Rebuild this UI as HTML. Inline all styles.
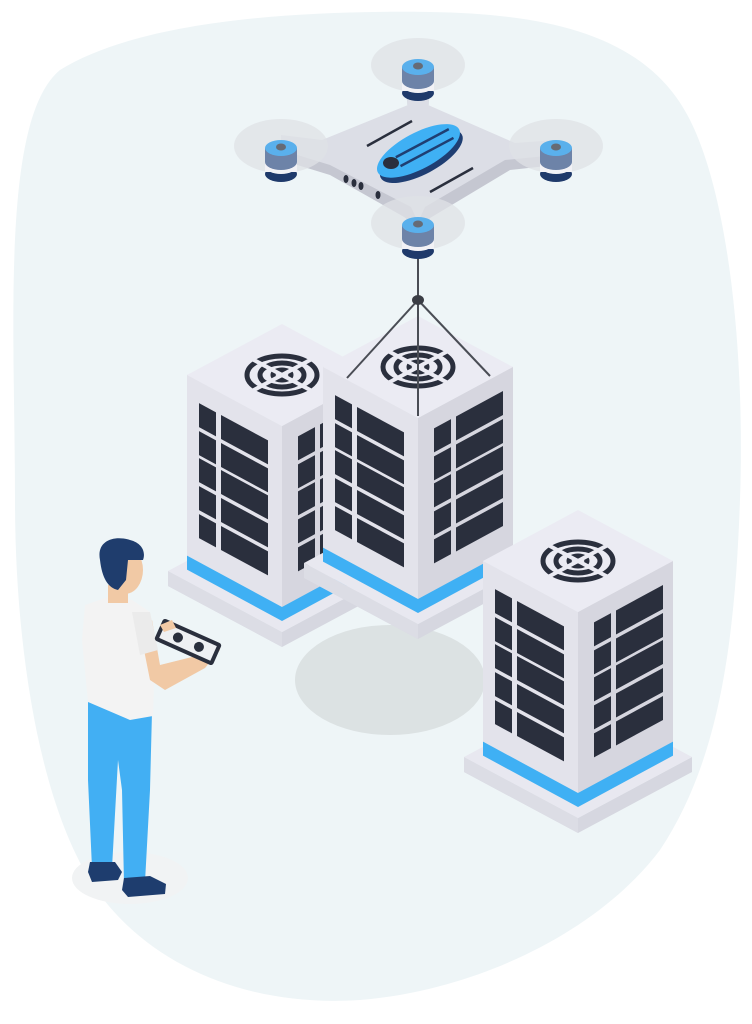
<!DOCTYPE html>
<html><head><meta charset="utf-8"><style>html,body{margin:0;padding:0;background:#fff}svg{display:block}</style></head>
<body>
<svg width="752" height="1024" viewBox="0 0 752 1024" xmlns="http://www.w3.org/2000/svg">
<defs>
<g id="srv">
  <polygon points="0,206 -114,145 -114,160 0,221 114,160 114,145" fill="#d6d7e0"/>
  <polygon points="0,206 -114,145 -114,160 0,221" fill="#dcdde5"/>
  <polygon points="0,84 -114,145 0,206 114,145" fill="#e8e8f0"/>
  <g transform="skewY(28.4)">
    <rect x="-95" y="0" width="95" height="195" fill="#e3e3eb"/>
    <rect x="-95" y="181" width="95" height="14" fill="#3fb0f4"/>
    <g fill="#2a2f3d">
      <rect x="-83" y="22" width="17" height="24"/><rect x="-61" y="22" width="47" height="24"/>
      <rect x="-83" y="50" width="17" height="24"/><rect x="-61" y="50" width="47" height="24"/>
      <rect x="-83" y="77" width="17" height="24"/><rect x="-61" y="77" width="47" height="24"/>
      <rect x="-83" y="105" width="17" height="24"/><rect x="-61" y="105" width="47" height="24"/>
      <rect x="-83" y="133" width="17" height="24"/><rect x="-61" y="133" width="47" height="24"/>
    </g>
  </g>
  <g transform="skewY(-28.4)">
    <rect x="0" y="0" width="95" height="195" fill="#d6d6df"/>
    <rect x="0" y="181" width="95" height="14" fill="#3fb0f4"/>
    <g fill="#2a2f3d">
      <rect x="16" y="19" width="17" height="24"/><rect x="38" y="19" width="47" height="24"/>
      <rect x="16" y="47" width="17" height="24"/><rect x="38" y="47" width="47" height="24"/>
      <rect x="16" y="74" width="17" height="24"/><rect x="38" y="74" width="47" height="24"/>
      <rect x="16" y="102" width="17" height="24"/><rect x="38" y="102" width="47" height="24"/>
      <rect x="16" y="130" width="17" height="24"/><rect x="38" y="130" width="47" height="24"/>
    </g>
  </g>
  <polygon points="0,0 -95,-51 0,-102 95,-51" fill="#ebebf3"/>
  <g fill="none" stroke="#2a2f3d">
    <ellipse cx="0" cy="-51" rx="35" ry="19" stroke-width="5"/>
    <ellipse cx="0" cy="-51" rx="22" ry="12" stroke-width="5"/>
    <ellipse cx="0" cy="-51" rx="9" ry="5" stroke-width="5"/>
  </g>
  <g stroke="#ebebf3" stroke-width="4">
    <line x1="-45" y1="-27" x2="45" y2="-75"/>
    <line x1="-45" y1="-75" x2="45" y2="-27"/>
  </g>
</g>
<g id="rotor">
  <ellipse cx="0" cy="-2" rx="47" ry="27" fill="#dfe2e6" opacity="0.75"/>
  <rect x="-16" y="0" width="32" height="26" fill="#f2f2f6"/>
  <ellipse cx="0" cy="26" rx="16" ry="8" fill="#1f3a6b"/>
  <rect x="-16" y="18" width="32" height="6" fill="#f2f2f6"/>
  <ellipse cx="0" cy="18" rx="16" ry="8" fill="#f2f2f6"/>
  <rect x="-16" y="0" width="32" height="14" fill="#6d83a8"/>
  <ellipse cx="0" cy="14" rx="16" ry="8" fill="#6d83a8"/>
  <ellipse cx="0" cy="0" rx="16" ry="8" fill="#5ab0ec"/>
  <ellipse cx="0" cy="-1" rx="5" ry="3.5" fill="#666b75"/>
</g>
</defs>

<path d="M60,70 C140,20 300,10 430,12 C560,14 650,40 690,120 C730,200 745,360 740,500 C735,640 720,760 660,850 C600,930 480,990 360,1000 C240,1008 140,960 90,880 C40,800 15,650 15,500 C15,330 0,120 60,70 Z" fill="#eef5f7"/>

<ellipse cx="390" cy="680" rx="95" ry="55" fill="#dce2e3"/>
<ellipse cx="130" cy="878" rx="58" ry="26" fill="#f1f3f4"/>

<use href="#srv" transform="translate(282,426)"/>
<use href="#srv" transform="translate(418,418)"/>
<use href="#srv" transform="translate(578,612)"/>

<g stroke="#4a4d55" stroke-width="2" fill="none">
  <line x1="418" y1="258" x2="418" y2="300"/>
  <line x1="418" y1="300" x2="418" y2="416"/>
  <line x1="418" y1="300" x2="347" y2="378"/>
  <line x1="418" y1="300" x2="490" y2="376"/>
</g>
<ellipse cx="418" cy="300" rx="6" ry="5" fill="#3a3d45"/>

<g>
  <polygon points="327,147 417,103 507,147 417,217" fill="#c3c5cf" transform="translate(0,10)"/>
  <path d="M405,70 L431,70 L428,110 L520,148 L556,145 L556,165 L510,170 L430,218 L418,232 L406,218 L330,175 L281,160 L281,140 L320,148 L408,110 Z" fill="#c5c7d1"/>
  <path d="M405,70 L431,70 L428,105 L515,143 L556,140 L556,155 L505,160 L425,207 L418,222 L411,207 L330,165 L281,150 L281,135 L322,140 L408,105 Z" fill="#dcdee6"/>
  <g transform="rotate(-28 418 150)">
    <ellipse cx="418" cy="157" rx="46" ry="18" fill="#1f3e72"/>
    <ellipse cx="418" cy="151" rx="46" ry="18" fill="#3fb0f4"/>
    <line x1="395" y1="146" x2="455" y2="146" stroke="#1f3e72" stroke-width="2.5"/>
    <line x1="395" y1="156" x2="455" y2="156" stroke="#1f3e72" stroke-width="2.5"/>
  </g>
  <ellipse cx="391" cy="163" rx="8" ry="6" fill="#2a2f3d"/>
  <line x1="367" y1="146" x2="412" y2="121" stroke="#2a2f3d" stroke-width="2.5"/>
  <line x1="430" y1="192" x2="473" y2="168" stroke="#2a2f3d" stroke-width="2.5"/>
  <g fill="#2a2f3d">
    <ellipse cx="346" cy="179" rx="2.5" ry="4"/><ellipse cx="354" cy="183" rx="2.5" ry="4"/><ellipse cx="361" cy="186" rx="2.5" ry="4"/><ellipse cx="378" cy="195" rx="2.5" ry="4"/>
  </g>
  <use href="#rotor" transform="translate(418,67)"/>
  <use href="#rotor" transform="translate(281,148)"/>
  <use href="#rotor" transform="translate(556,148)"/>
  <use href="#rotor" transform="translate(418,225)"/>
</g>

<g>
  <path d="M88,700 L152,712 L150,790 L145,882 L124,884 L122,790 L118,760 L112,868 L92,868 L88,780 Z" fill="#42aff3"/>
  <path d="M90,862 L115,862 L122,872 L118,880 L92,882 L88,872 Z" fill="#1e3d6e"/>
  <path d="M124,878 L150,876 L166,884 L165,894 L128,897 L122,890 Z" fill="#1e3d6e"/>
  <path d="M85,605 L108,597 L132,600 L150,612 L155,650 L153,716 L130,720 L88,702 L82,640 Z" fill="#f3f3f3"/>
  <path d="M152,620 L160,665 L200,655 L213,640 L220,650 L205,668 L165,690 L150,680 L142,640 Z" fill="#f1c9a5"/>
  <path d="M132,612 L150,612 L158,650 L140,655 Z" fill="#ebebeb"/>
  <rect x="108" y="585" width="20" height="18" fill="#f1c9a5"/>
  <ellipse cx="125" cy="570" rx="18" ry="24" fill="#f1c9a5"/>
  <path d="M100,560 C96,540 115,535 130,540 C142,543 146,552 143,560 L128,560 L126,580 L118,590 C108,588 102,578 100,560 Z" fill="#1f3d6d"/>
  <g transform="rotate(24 188 642)">
    <rect x="156" y="630" width="64" height="24" rx="3" fill="#2a2f3d"/>
    <rect x="160" y="634" width="56" height="16" fill="#eef0f3"/>
    <circle cx="177" cy="642" r="5" fill="#2a2f3d"/><circle cx="200" cy="642" r="5" fill="#2a2f3d"/>
  </g>
  <path d="M160,625 L172,620 L176,628 L164,632 Z" fill="#f1c9a5"/>
</g>
</svg>
</body></html>
